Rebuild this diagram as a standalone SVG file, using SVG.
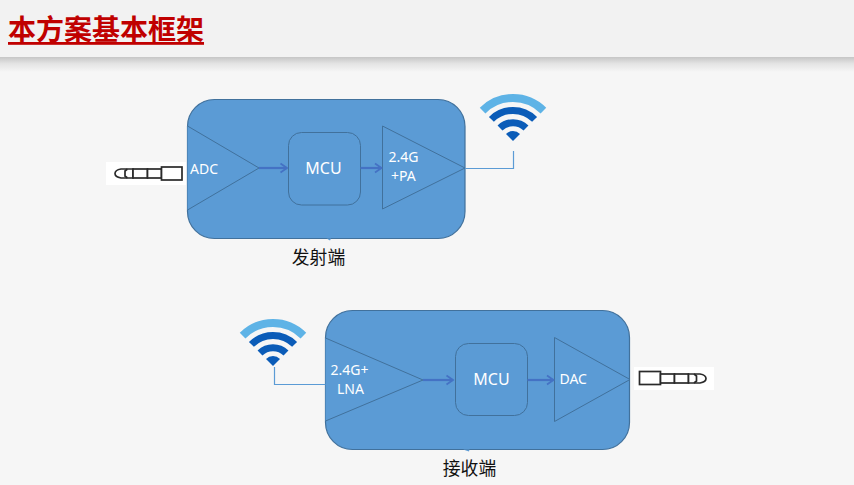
<svg xmlns="http://www.w3.org/2000/svg" width="854" height="485" viewBox="0 0 854 485">
  <style>
    .box { fill: #5b9bd5; stroke: #41719c; stroke-width: 1.2; }
    .inner { fill: #5b9bd5; stroke: #41719c; stroke-width: 1; }
    .lbl { font-family: "Noto Sans", "Open Sans", sans-serif; fill: #ffffff; font-size: 14px; }
    .mcu { font-size: 16px; text-anchor: middle; }
    .cap { font-family: "Noto Sans CJK SC", sans-serif; font-size: 17.8px; font-weight: 400; fill: #111111; text-anchor: middle; }
    .title { font-family: "Noto Sans CJK SC", sans-serif; font-size: 28px; font-weight: 700; fill: #c00000; }
    .flow { fill: none; stroke: #4472c4; stroke-width: 2.2; }
    .feed { fill: none; stroke: #5b9bd5; stroke-width: 1.2; }
    .plug { fill: #ffffff; stroke: #2a2a2a; stroke-width: 1.7; }
    .w1 { fill: none; stroke: #5eb3e6; stroke-width: 8; }
    .w2 { fill: none; stroke: #0b5cb8; stroke-width: 7; }
  </style>
  <defs>
    <linearGradient id="shade" x1="0" y1="0" x2="0" y2="1">
      <stop offset="0" stop-color="#c6c6c6"/>
      <stop offset="0.45" stop-color="#e4e4e4"/>
      <stop offset="1" stop-color="#f6f6f6"/>
    </linearGradient>
    <marker id="arrow" markerUnits="userSpaceOnUse" markerWidth="10" markerHeight="12" refX="8.5" refY="6" orient="auto">
      <path d="M2 1.5 L8.5 6 L2 10.5" fill="none" stroke="#4472c4" stroke-width="1.8"/>
    </marker>
    <g id="wifi">
      <path class="w1" d="M-30.400 -30.400 A43 43 0 0 1 30.400 -30.400"/>
      <path class="w2" d="M-21.600 -21.600 A30.500 30.500 0 0 1 21.600 -21.600"/>
      <path class="w2" d="M-13 -13 A18.500 18.500 0 0 1 13 -13"/>
      <path d="M0 0 L-7 -7 A9.900 9.900 0 0 1 7 -7 Z" fill="#0b5cb8"/>
    </g>
  </defs>

  <rect width="854" height="485" fill="#f6f6f6"/>

  <g id="header">
    <rect x="0" y="57" width="854" height="15" fill="url(#shade)"/>
    <rect x="0" y="0" width="854" height="57" fill="#f2f2f2"/>
    <text class="title" x="8" y="40" text-decoration="underline">本方案基本框架</text>
  </g>

  <!-- Transmitter -->
  <g id="tx-board">
    <rect class="box" x="187.500" y="99.500" width="277.500" height="139" rx="27"/>
    <path d="M326.500 238.500 L331 238.500 L330 240.500 Z" fill="#5b9bd5"/>
  </g>
  <g id="tx-adc">
    <path class="inner" d="M187.500 126 L259 168 L187.500 210"/>
    <text class="lbl" x="190" y="174">ADC</text>
  </g>
  <g id="tx-mcu">
    <rect class="inner" x="288.500" y="132.500" width="72" height="72.500" rx="13"/>
    <text class="lbl mcu" x="323.500" y="173.500">MCU</text>
  </g>
  <g id="tx-pa">
    <path class="inner" d="M382.500 126 L465 168 L382.500 209 Z"/>
    <text class="lbl" x="388.500" y="162">2.4G</text>
    <text class="lbl" x="391" y="181">+PA</text>
  </g>
  <g id="tx-plug">
    <rect x="106" y="162" width="80" height="23" fill="#ffffff"/>
    <path class="plug" d="M133 169 L121 169 Q115 170 115 173.500 Q115 177 121 178 L133 178 Z"/>
    <path class="plug" d="M127.500 169 L125 171 L125 176 L127.500 178" fill="none"/>
    <rect class="plug" x="133" y="169" width="14.500" height="9"/>
    <rect class="plug" x="147.500" y="169" width="14" height="9"/>
    <rect class="plug" x="161.500" y="167" width="20.500" height="13"/>
  </g>
  <use id="tx-wifi" href="#wifi" x="513" y="141"/>

  <!-- Receiver -->
  <g id="rx-board">
    <rect class="box" x="325.500" y="310.500" width="304" height="139" rx="27"/>
    <path d="M463 449.500 L469.500 449.500 L469 451.500 Z" fill="#5b9bd5"/>
  </g>
  <g id="rx-lna">
    <path class="inner" d="M325.500 338 L423 380 L325.500 421"/>
    <text class="lbl" x="330.500" y="375">2.4G+</text>
    <text class="lbl" x="337" y="394">LNA</text>
  </g>
  <g id="rx-mcu">
    <rect class="inner" x="455.500" y="343.500" width="72" height="72" rx="13"/>
    <text class="lbl mcu" x="491.500" y="385">MCU</text>
  </g>
  <g id="rx-dac">
    <path class="inner" d="M554.500 337.500 L630 379.500 L554.500 421.500 Z"/>
    <text class="lbl" x="559.500" y="384">DAC</text>
  </g>
  <g id="rx-plug">
    <rect x="634" y="367" width="80" height="23" fill="#ffffff"/>
    <rect class="plug" x="639.500" y="371.500" width="21" height="13"/>
    <rect class="plug" x="660.500" y="374" width="14" height="9"/>
    <rect class="plug" x="674.500" y="374" width="14" height="9"/>
    <path class="plug" d="M688.500 374 L700 374 Q706 375 706 378.500 Q706 382 700 383 L688.500 383 Z"/>
    <path class="plug" d="M694 374 L696.500 376 L696.500 381 L694 383" fill="none"/>
  </g>
  <use id="rx-wifi" href="#wifi" x="273" y="366"/>

  <g id="connectors">
    <path class="flow" marker-end="url(#arrow)" d="M259 168 L287 168"/>
    <path class="flow" marker-end="url(#arrow)" d="M360.500 168 L381.500 168"/>
    <path class="feed" d="M465 168.500 L513.500 168.500 L513.500 151"/>
    <path class="feed" d="M274.500 367 L274.500 384.500 L325.500 384.500"/>
    <path class="flow" marker-end="url(#arrow)" d="M423 380 L453 380"/>
    <path class="flow" marker-end="url(#arrow)" d="M527.500 380 L553.500 380"/>
  </g>

  <g id="captions">
    <text class="cap" x="318.500" y="264">发射端</text>
    <text class="cap" x="469.500" y="475">接收端</text>
  </g>
</svg>
